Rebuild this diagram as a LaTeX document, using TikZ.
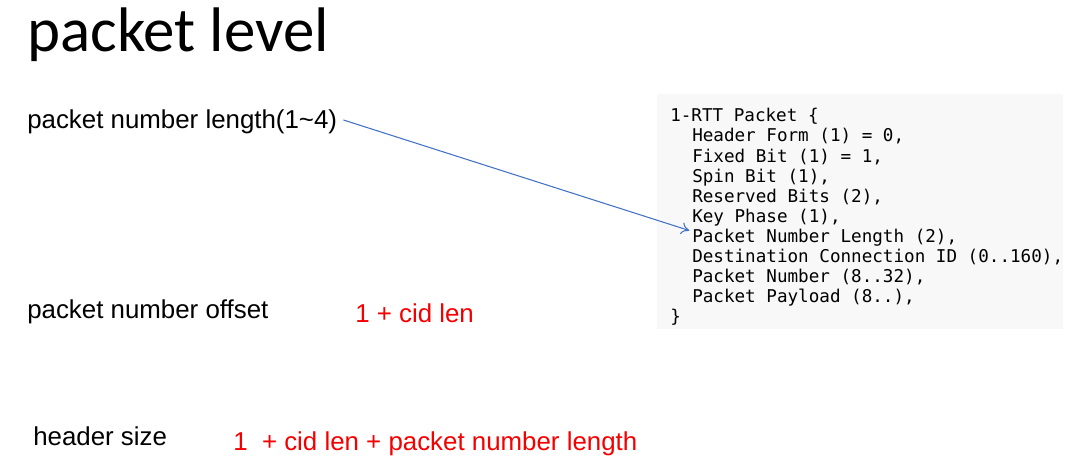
\documentclass[tikz,border=0pt]{standalone}
\usepackage{fontspec}
\setmainfont{Liberation Sans}
\newfontfamily\titlefont{Carlito}
\newfontfamily\codefont{DejaVu Sans Mono}
\usetikzlibrary{arrows.meta}
\definecolor{codebg}{RGB}{248,248,248}
\definecolor{arrowblue}{RGB}{68,114,196}
\definecolor{redtext}{RGB}{245,0,0}
\tikzset{
  titletext/.style={anchor=base west, inner sep=0pt, font=\titlefont\fontsize{47.2pt}{50pt}\selectfont},
  bodytext/.style={anchor=base west, inner sep=0pt, font=\fontsize{19.4pt}{23pt}\selectfont},
  redval/.style={bodytext, text=redtext},
  codeline/.style={anchor=base west, inner sep=0pt, font=\codefont\fontsize{13.2pt}{15pt}\selectfont},
  codebox/.style={fill=codebg, draw=none},
  pointer/.style={draw=arrowblue, line width=0.8pt, -{To[length=6pt,width=9pt]}}
}
\begin{document}
\begin{tikzpicture}[x=0.75pt,y=-0.75pt]
\useasboundingbox (0,0) rectangle (1086,467);
\fill[white] (0,0) rectangle (1086,467);
\fill[codebox] (657,94) rectangle (1063,329);
\node[titletext] (title) at (27,52) {packet level};
\node[bodytext] (pnl) at (27,128) {packet number length(1\char`~4)};
\node[bodytext] (pno) at (27,318) {packet number offset};
\node[redval] (pnov) at (355,322) {1 + cid len};
\node[bodytext] (hs) at (33,445) {header size};
\node[redval] (hsv) at (233,450) {1\ \ + cid len + packet number length};
\node[codeline] (l1) at (670,122) {1-RTT Packet \{};
\node[codeline] (l2) at (692,142) {Header Form (1) = 0,};
\node[codeline] (l3) at (692,162) {Fixed Bit (1) = 1,};
\node[codeline] (l4) at (692,182) {Spin Bit (1),};
\node[codeline] (l5) at (692,202) {Reserved Bits (2),};
\node[codeline] (l6) at (692,222) {Key Phase (1),};
\node[codeline] (l7) at (692,242) {Packet Number Length (2),};
\node[codeline] (l8) at (692,262) {Destination Connection ID (0..160),};
\node[codeline] (l9) at (692,282) {Packet Number (8..32),};
\node[codeline] (l10) at (692,302) {Packet Payload (8..),};
\node[codeline] (l11) at (670,322) {\}};
\draw[pointer] ([xshift=4.5pt,yshift=1pt]pnl.east) -- ([xshift=-2pt,yshift=5pt]l7.west);
\end{tikzpicture}
\end{document}
